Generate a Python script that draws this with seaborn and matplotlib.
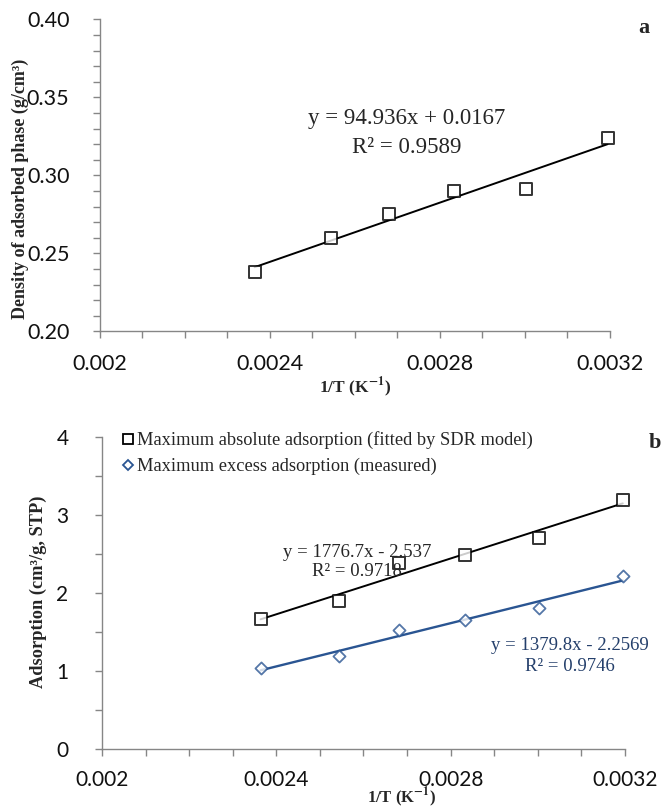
import numpy as np
import matplotlib
matplotlib.use('Agg')
import matplotlib.pyplot as plt
from matplotlib.ticker import MultipleLocator, FormatStrFormatter
from matplotlib.lines import Line2D
import seaborn as sns

sns.set_style('white')
plt.rcParams['mathtext.fontset'] = 'stix'

# 1/T values (K^-1), T = 423, 393, 373, 353, 333, 313 K
inv_t = [0.002364, 0.002545, 0.002681, 0.002833, 0.003003, 0.003195]
# panel a: density of adsorbed phase (g/cm3)
density = [0.238, 0.260, 0.275, 0.290, 0.291, 0.324]
# panel b: adsorption (cm3/g, STP)
abs_ads = [1.66, 1.90, 2.38, 2.49, 2.70, 3.19]
exc_ads = [1.04, 1.19, 1.52, 1.65, 1.80, 2.22]

eq_a = ['y = 94.936x + 0.0167', 'R² = 0.9589']
eq_abs = ['y = 1776.7x - 2.537', 'R² = 0.9718']
eq_exc = ['y = 1379.8x - 2.2569', 'R² = 0.9746']
legend_labels = ['Maximum absolute adsorption (fitted by SDR model)',
                 'Maximum excess adsorption (measured)']

blue = '#2a5592'
blue_txt = '#243f6b'
grey = '#868686'
serif = 'Liberation Serif'
tickfont = 'Lato'

fig = plt.figure(figsize=(6.62, 8.1), dpi=100)
ax1 = fig.add_axes([0.151, 0.591, 0.770, 0.385])
ax2 = fig.add_axes([0.154, 0.0753, 0.790, 0.3856])


def style_axis(ax, xpad, ypad, size, xlsize):
    sns.despine(ax=ax)
    for s in ['left', 'bottom']:
        ax.spines[s].set_color(grey)
        ax.spines[s].set_linewidth(1.0)
    ax.set_xlim(0.002, 0.0032)
    ax.xaxis.set_major_locator(MultipleLocator(0.0004))
    ax.xaxis.set_minor_locator(MultipleLocator(0.0001))
    ax.xaxis.set_major_formatter(FormatStrFormatter('%g'))
    ax.tick_params(which='both', direction='out', color=grey, width=1.0,
                   length=5, left=True, bottom=True)
    ax.tick_params(axis='x', which='major', pad=xpad, labelsize=size,
                   labelcolor='#111111')
    ax.tick_params(axis='y', which='major', pad=ypad, labelsize=size,
                   labelcolor='#111111')
    for lab in ax.get_xticklabels() + ax.get_yticklabels():
        lab.set_fontfamily(tickfont)
    ax.set_xlabel(r'1/T (K$^{\mathbf{-1}}$)', fontsize=xlsize,
                  fontweight='bold', family=serif)


# ---- panel a ----
sns.regplot(x=inv_t, y=density, ax=ax1, ci=None, marker='s',
            scatter_kws=dict(s=66, facecolors='white', edgecolors='black',
                             linewidths=1.4, zorder=3, clip_on=False),
            line_kws=dict(color='black', lw=1.4, zorder=2))
ax1.set_ylim(0.20, 0.40)
ax1.yaxis.set_major_locator(MultipleLocator(0.05))
ax1.yaxis.set_minor_locator(MultipleLocator(0.01))
ax1.yaxis.set_major_formatter(FormatStrFormatter('%.2f'))
style_axis(ax1, 11, 17, 15.5, 12.5)
ax1.set_ylabel('Density of adsorbed phase (g/cm³)', fontsize=13,
               fontweight='bold', family=serif)
ax1.yaxis.set_label_coords(-0.139, 0.458)
ax1.xaxis.set_label_coords(0.50, -0.140)
ax1.text(0.002722, 0.3365, eq_a[0], ha='center', va='center',
         family=serif, fontsize=16.5)
ax1.text(0.002722, 0.318, eq_a[1], ha='center', va='center',
         family=serif, fontsize=16.5)
ax1.text(1.067, 0.971, 'a', transform=ax1.transAxes, ha='center', va='center',
         family=serif, fontsize=16, fontweight='bold')

# ---- panel b ----
sns.regplot(x=inv_t, y=abs_ads, ax=ax2, ci=None, marker='s',
            scatter_kws=dict(s=66, facecolors='white', edgecolors='black',
                             linewidths=1.4, zorder=3, clip_on=False),
            line_kws=dict(color='black', lw=1.4, zorder=2))
sns.regplot(x=inv_t, y=exc_ads, ax=ax2, ci=None, marker='D',
            scatter_kws=dict(s=38, facecolors='white', edgecolors=blue,
                             linewidths=1.3, zorder=3, clip_on=False),
            line_kws=dict(color=blue, lw=1.7, zorder=2))
ax2.set_ylim(0, 4)
ax2.yaxis.set_major_locator(MultipleLocator(1))
ax2.yaxis.set_minor_locator(MultipleLocator(0.5))
ax2.yaxis.set_major_formatter(FormatStrFormatter('%d'))
style_axis(ax2, 10, 19, 15, 12)
ax2.set_ylabel('Adsorption (cm³/g, STP)', fontsize=13.2, fontweight='bold',
               family=serif)
ax2.yaxis.set_label_coords(-0.105, 0.503)
ax2.xaxis.set_label_coords(0.572, -0.117)
ax2.text(0.002585, 2.52, eq_abs[0], ha='center', va='center',
         family=serif, fontsize=13.5)
ax2.text(0.002585, 2.27, eq_abs[1], ha='center', va='center',
         family=serif, fontsize=13.5)
ax2.text(0.003074, 1.33, eq_exc[0], ha='center', va='center',
         family=serif, fontsize=13.5, color=blue_txt)
ax2.text(0.003074, 1.06, eq_exc[1], ha='center', va='center',
         family=serif, fontsize=13.5, color=blue_txt)
ax2.text(1.057, 0.98, 'b', transform=ax2.transAxes, ha='center', va='center',
         family=serif, fontsize=16, fontweight='bold')

handles = [Line2D([], [], ls='none', marker='s', ms=7.5, mfc='white',
                  mec='black', mew=1.3),
           Line2D([], [], ls='none', marker='D', ms=5.5, mfc='white',
                  mec=blue, mew=1.3)]
ax2.legend(handles, legend_labels, loc='upper left',
           bbox_to_anchor=(0.025, 1.04), frameon=False,
           prop=dict(family=serif, size=13.2), handlelength=0.6,
           handletextpad=0.2, labelspacing=0.45, borderaxespad=0)

fig.savefig('out.png', dpi=100)
